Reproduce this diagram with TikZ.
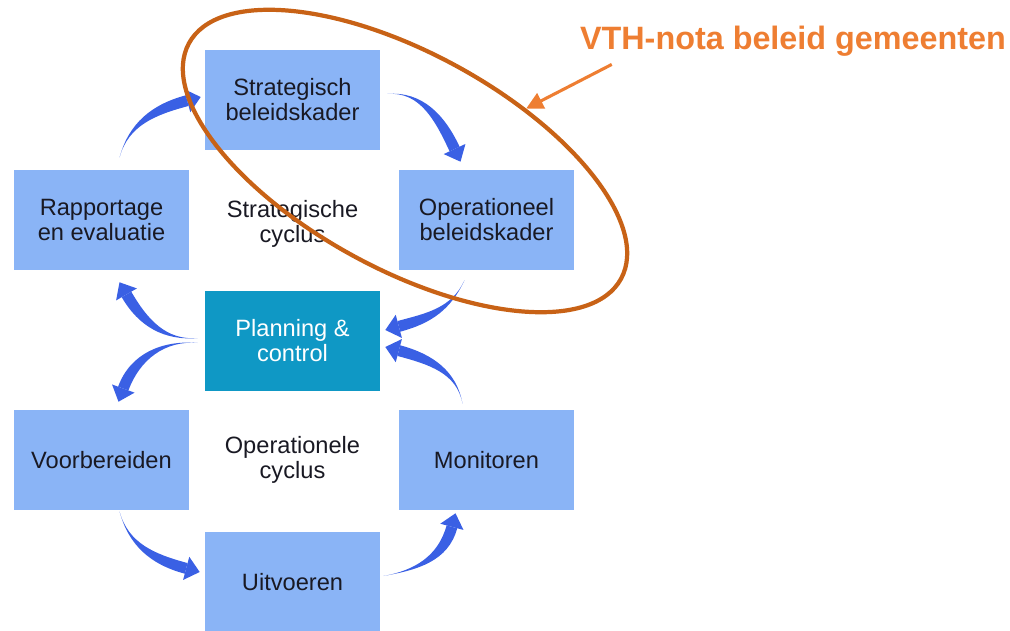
\documentclass[tikz,border=0pt]{standalone}
\usepackage{fontspec}
\setmainfont{Liberation Sans}
\usetikzlibrary{arrows.meta,calc,shapes.geometric}
\definecolor{boxblue}{RGB}{138,180,246}
\definecolor{pcteal}{RGB}{15,152,197}
\definecolor{flowblue}{RGB}{58,96,228}
\definecolor{ringorange}{RGB}{200,98,22}
\definecolor{noteorange}{RGB}{238,126,50}
\definecolor{textdark}{RGB}{25,25,35}

\tikzset{
    box/.style={rectangle, fill=boxblue, minimum width=4.375cm, minimum height=2.5cm, inner sep=0pt, align=center, text=textdark, font=\fontsize{16.8}{17.8}\selectfont},
    cyclus/.style={align=center, text=textdark, font=\fontsize{16.8}{17.8}\selectfont},
    flow/.style={fill=flowblue},
    ring/.style={ellipse, draw=ringorange, line width=3pt, minimum width=12.3cm, minimum height=5.4cm, inner sep=0pt},
    note/.style={text=noteorange, inner sep=0pt, font=\fontsize{23}{26}\selectfont\bfseries},
    notearrow/.style={draw=noteorange, line width=2.2pt, -{Triangle[width=12pt,length=12pt]}}
}

% tapered curved arrow: tail, tip, out, in
\newcommand{\flowarrow}[4]{%
    \coordinate (fb) at ($(#2)+(#4:14)$);
    \fill[flow] (#1) to[out=#3,in=#4] ($(fb)+(#4+90:5.5)$) -- ($(fb)+(#4-90:5.5)$) to[out=#4,in=#3] (#1) -- cycle;
    \fill[flow] ($(fb)+(#4+90:12)$) -- (#2) -- ($(fb)+(#4-90:12)$) -- cycle;
}

\begin{document}
\begin{tikzpicture}[x=0.025cm,y=0.025cm]
    \useasboundingbox (0,0) rectangle (1010,-630);

    % the boxes
    \node[box] (strat) at (292.5,-100) {Strategisch\\beleidskader};
    \node[box] (oper) at (486.5,-220) {Operationeel\\beleidskader};
    \node[box] (rapp) at (101.5,-220) {Rapportage\\en evaluatie};
    \node[box, fill=pcteal, text=white] (plan) at (292.5,-341) {Planning \&\\control};
    \node[box] (voor) at (101.5,-460) {Voorbereiden};
    \node[box] (moni) at (486.5,-460) {Monitoren};
    \node[box] (uitv) at (292.5,-582) {Uitvoeren};

    \node[cyclus] (scyc) at (292.5,-224) {Strategische\\cyclus};
    \node[cyclus] (ocyc) at (292.5,-460) {Operationele\\cyclus};

    % ends of the arrows
    \coordinate (rapptail) at ($(rapp.north)+(18,12)$);
    \coordinate (strattip) at ($(strat.west)+(-4,3)$);
    \coordinate (strattail) at ($(strat.east)+(7,6)$);
    \coordinate (opertip) at ($(oper.north)+(-26,8)$);
    \coordinate (opertail) at ($(oper.south)+(-22,-10)$);
    \coordinate (plantipa) at ($(plan.east)+(5,11)$);
    \coordinate (plantailr) at ($(plan.west)+(-7,3)$);
    \coordinate (rapptip) at ($(rapp.south)+(18,-12)$);
    \coordinate (plantailv) at ($(plan.west)+(-7,-2)$);
    \coordinate (voortip) at ($(voor.north)+(17,8)$);
    \coordinate (voortail) at ($(voor.south)+(18,-1)$);
    \coordinate (uitvtip) at ($(uitv.west)+(-5,10)$);
    \coordinate (uitvtail) at ($(uitv.east)+(3,6)$);
    \coordinate (monitip) at ($(moni.south)+(-31,-3)$);
    \coordinate (monitail) at ($(moni.north)+(-24,6)$);
    \coordinate (plantipb) at ($(plan.east)+(5,-6)$);

    % strategische cyclus
    \flowarrow{rapptail}{strattip}{75}{195}
    \flowarrow{strattail}{opertip}{5}{115}
    \flowarrow{opertail}{plantipa}{245}{15}
    \flowarrow{plantailr}{rapptip}{185}{-60}

    % operationele cyclus
    \flowarrow{plantailv}{voortip}{175}{70}
    \flowarrow{voortail}{uitvtip}{-75}{165}
    \flowarrow{uitvtail}{monitip}{10}{-105}
    \flowarrow{monitail}{plantipb}{100}{-15}

    % VTH-nota
    \node[ring, rotate=-28.6] (vthring) at (405,-161) {};
    \node[note] (vthnote) at (793,-41) {VTH-nota beleid gemeenten};
    \draw[notearrow] ($(vthnote.south west)+(32,-8)$) -- (vthring.52);
\end{tikzpicture}
\end{document}
